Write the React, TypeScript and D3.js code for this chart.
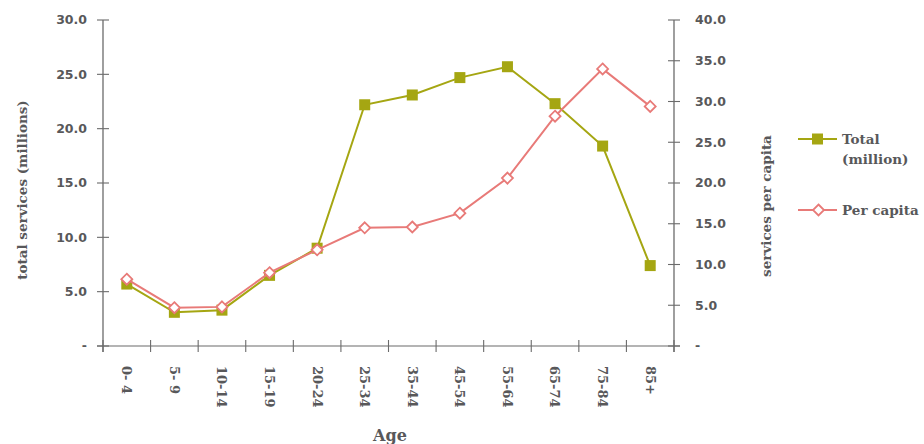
import React from "react";
import * as d3 from "d3";

const categories = ["0- 4", "5- 9", "10-14", "15-19", "20-24", "25-34", "35-44", "45-54", "55-64", "65-74", "75-84", "85+"];
const totalMillions = [5.7, 3.1, 3.3, 6.5, 9.0, 22.2, 23.1, 24.7, 25.7, 22.3, 18.4, 7.4];
const perCapita = [8.2, 4.7, 4.8, 9.0, 11.8, 14.5, 14.6, 16.3, 20.6, 28.2, 34.0, 29.4];
const leftTicks = [0, 5, 10, 15, 20, 25, 30];
const rightTicks = [0, 5, 10, 15, 20, 25, 30, 35, 40];

const W = 924, H = 444;
const L = 103, R = 674, T = 20, B = 346;
const TOTAL_C = "#a5a612";
const PC_C = "#e87a78";
const AX = "#6b6b6b";
const TXT = "#58585a";
const NUMFONT = "'DejaVu Sans', sans-serif";
const SERIF = "'DejaVu Serif', serif";

export default function App() {
  const x = d3.scaleBand<string>().domain(categories).range([L, R]);
  const yL = d3.scaleLinear().domain([0, 30]).range([B, T]);
  const yR = d3.scaleLinear().domain([0, 40]).range([B, T]);
  const cx = (c: string) => (x(c) as number) + x.bandwidth() / 2;
  const lineL = d3.line<number>().x((_, i) => cx(categories[i])).y((d) => yL(d));
  const lineR = d3.line<number>().x((_, i) => cx(categories[i])).y((d) => yR(d));
  const fmt = (v: number) => (v === 0 ? "-" : v.toFixed(1));
  const bounds = [...categories.map((c) => x(c) as number), R];
  const sq = 11;
  const dm = 5.5;
  const diamond = (px: number, py: number) =>
    `M${px},${py - dm}L${px + dm},${py}L${px},${py + dm}L${px - dm},${py}Z`;

  return (
    <svg width={W} height={H} style={{ position: "absolute", left: 0, top: 0, background: "#fff" }}>
      {/* left axis */}
      <line x1={L} x2={L} y1={T} y2={B + 6} stroke={AX} strokeWidth={1.3} />
      {leftTicks.map((t) => (
        <g key={"l" + t}>
          <line x1={L - 6} x2={L + 6} y1={yL(t)} y2={yL(t)} stroke={AX} strokeWidth={1.1} />
          <text x={87} y={yL(t)} dy="0.35em" textAnchor="end" fontFamily={NUMFONT} fontWeight={700} fontSize={12.5} fill={TXT}>
            {fmt(t)}
          </text>
        </g>
      ))}
      {/* right axis */}
      <line x1={R} x2={R} y1={T} y2={B + 6} stroke={AX} strokeWidth={1.3} />
      {rightTicks.map((t) => (
        <g key={"r" + t}>
          <line x1={R - 6} x2={R + 6} y1={yR(t)} y2={yR(t)} stroke={AX} strokeWidth={1.1} />
          <text x={695} y={yR(t)} dy="0.35em" textAnchor="start" fontFamily={NUMFONT} fontWeight={700} fontSize={12.5} fill={TXT}>
            {fmt(t)}
          </text>
        </g>
      ))}
      {/* x axis */}
      <line x1={L - 6} x2={R + 6} y1={B} y2={B} stroke={AX} strokeWidth={1.1} />
      {bounds.map((b, i) => (
        <line key={"xb" + i} x1={b} x2={b} y1={B - 6} y2={B + 6} stroke={AX} strokeWidth={1.1} />
      ))}
      {categories.map((c) => (
        <text key={"xl" + c} transform={`translate(${cx(c)},${366}) rotate(90)`} dy="0.35em" textAnchor="start" fontFamily={SERIF} fontWeight={700} fontSize={13} fill={TXT}>
          {c}
        </text>
      ))}
      {/* axis titles */}
      <text x={390} y={441} textAnchor="middle" fontFamily={SERIF} fontWeight={700} fontSize={16} fill={TXT}>Age</text>
      <text transform={`translate(27,190) rotate(-90)`} textAnchor="middle" fontFamily={SERIF} fontWeight={700} fontSize={13.5} fill={TXT}>
        total services (millions)
      </text>
      <text transform={`translate(771,206) rotate(-90)`} textAnchor="middle" fontFamily={SERIF} fontWeight={700} fontSize={13.5} fill={TXT}>
        services per capita
      </text>
      {/* series */}
      <path d={lineL(totalMillions) || ""} fill="none" stroke={TOTAL_C} strokeWidth={2} />
      {totalMillions.map((v, i) => (
        <rect key={"s" + i} x={cx(categories[i]) - sq / 2} y={yL(v) - sq / 2} width={sq} height={sq} fill={TOTAL_C} />
      ))}
      <path d={lineR(perCapita) || ""} fill="none" stroke={PC_C} strokeWidth={2} />
      {perCapita.map((v, i) => (
        <path key={"d" + i} d={diamond(cx(categories[i]), yR(v))} fill="#fff" stroke={PC_C} strokeWidth={1.8} />
      ))}
      {/* legend */}
      <line x1={798} x2={837} y1={139} y2={139} stroke={TOTAL_C} strokeWidth={2} />
      <rect x={817.5 - sq / 2} y={139 - sq / 2} width={sq} height={sq} fill={TOTAL_C} />
      <text x={842} y={144} fontFamily={SERIF} fontWeight={700} fontSize={13.5} fill={TXT}>Total</text>
      <text x={842} y={164} fontFamily={SERIF} fontWeight={700} fontSize={13.5} fill={TXT}>(million)</text>
      <line x1={798} x2={837} y1={210} y2={210} stroke={PC_C} strokeWidth={2} />
      <path d={diamond(818.5, 210)} fill="#fff" stroke={PC_C} strokeWidth={1.8} />
      <text x={842} y={215} fontFamily={SERIF} fontWeight={700} fontSize={13.5} fill={TXT}>Per capita</text>
    </svg>
  );
}
